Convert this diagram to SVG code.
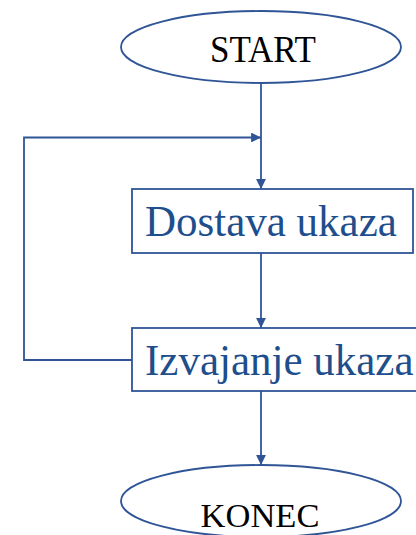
<svg xmlns="http://www.w3.org/2000/svg" width="416" height="535" viewBox="0 0 416 535">
  <style>
    .shape { fill: #ffffff; stroke: #2F5597; stroke-width: 1.8; }
    .wire { fill: none; stroke: #2F5597; stroke-width: 1.8; }
    .term { font-family: "Liberation Serif", "Times New Roman", serif; fill: #000000; text-anchor: middle; }
    .proc { font-family: "Liberation Serif", "Times New Roman", serif; font-size: 43px; fill: #1F4E8C; }
  </style>
  <defs>
    <marker id="arrow" viewBox="0 0 10 10" refX="10" refY="5" markerWidth="5.5" markerHeight="5.5" orient="auto" markerUnits="strokeWidth">
      <path d="M0,0 L10,5 L0,10 z" fill="#2F5597"/>
    </marker>
  </defs>

  <!-- flow connectors -->
  <g id="connectors">
    <line class="wire" x1="261" y1="83" x2="261" y2="189" marker-end="url(#arrow)"/>
    <line class="wire" x1="261" y1="253" x2="261" y2="328" marker-end="url(#arrow)"/>
    <line class="wire" x1="261" y1="391" x2="261" y2="465" marker-end="url(#arrow)"/>
    <polyline class="wire" points="132,360 24,360 24,137.5 261,137.5" marker-end="url(#arrow)"/>
  </g>

  <g id="start">
    <ellipse class="shape" cx="261" cy="47" rx="140" ry="36"/>
    <text class="term" font-size="35" transform="translate(263,62) scale(1,1.06)">START</text>
  </g>

  <g id="dostava">
    <rect class="shape" x="132" y="189" width="281" height="64"/>
    <text class="proc" transform="translate(145,236) scale(1,1.05)">Dostava ukaza</text>
  </g>

  <g id="izvajanje">
    <rect class="shape" x="132" y="328" width="300" height="63"/>
    <text class="proc" transform="translate(145,375) scale(1,1.05)">Izvajanje ukaza</text>
  </g>

  <g id="konec">
    <ellipse class="shape" cx="261" cy="501" rx="140" ry="36"/>
    <text class="term" font-size="34.5" x="260" y="527">KONEC</text>
  </g>
</svg>
